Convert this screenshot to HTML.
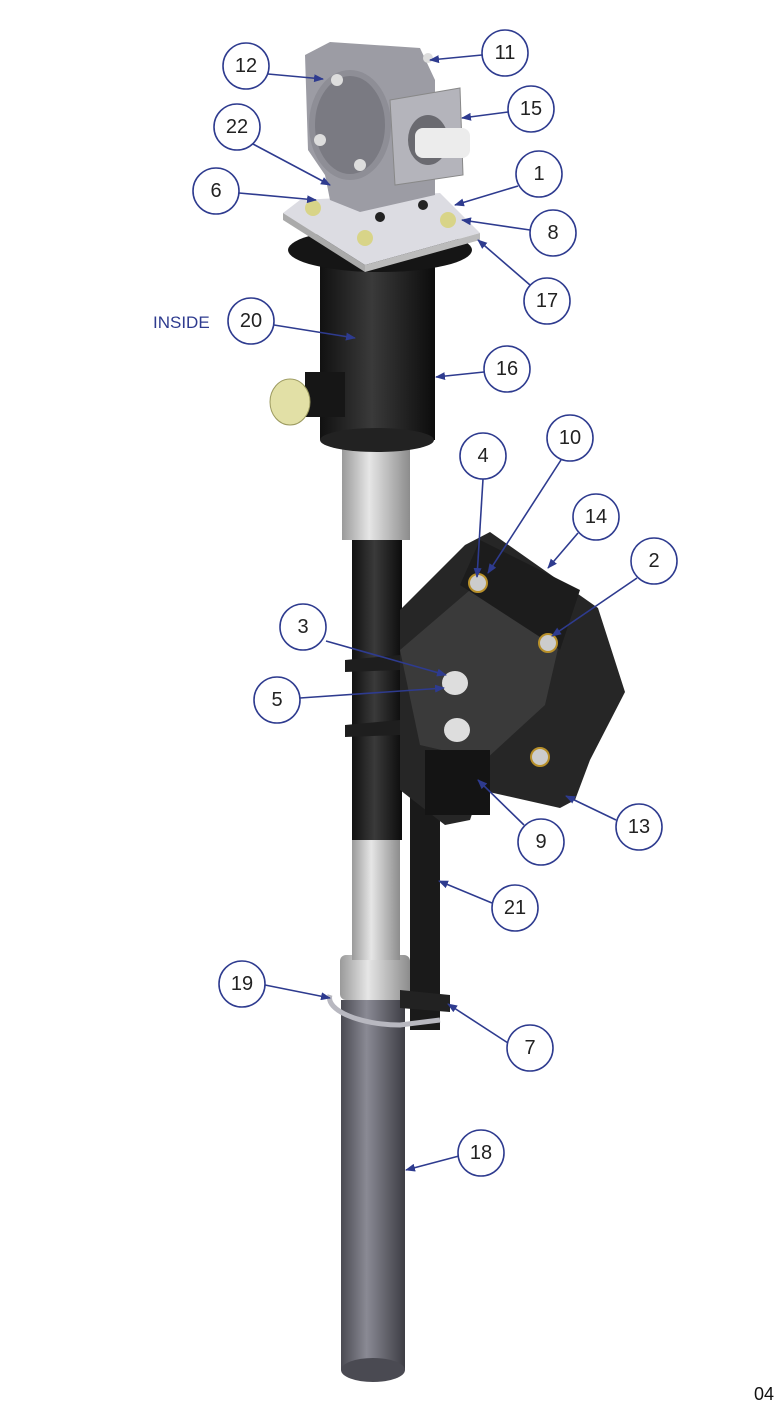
<!DOCTYPE html>
<html><head><meta charset="utf-8"><style>
html,body{margin:0;padding:0;background:#fff;width:784px;height:1416px;overflow:hidden}
svg{display:block}
text{font-family:"Liberation Sans",sans-serif}
</style></head><body>
<svg width="784" height="1416" viewBox="0 0 784 1416" xmlns="http://www.w3.org/2000/svg">
<defs>
<linearGradient id="tube" x1="0" x2="1"><stop offset="0" stop-color="#4a4a52"/><stop offset=".4" stop-color="#8a8a94"/><stop offset="1" stop-color="#3d3d44"/></linearGradient>
<linearGradient id="silver" x1="0" x2="1"><stop offset="0" stop-color="#9a9a9a"/><stop offset=".4" stop-color="#e6e6e6"/><stop offset="1" stop-color="#8c8c8c"/></linearGradient>
<linearGradient id="black" x1="0" x2="1"><stop offset="0" stop-color="#111"/><stop offset=".45" stop-color="#3a3a3a"/><stop offset="1" stop-color="#0c0c0c"/></linearGradient>
<marker id="ah" markerWidth="10" markerHeight="8" refX="9" refY="4" orient="auto" markerUnits="userSpaceOnUse"><path d="M0,0 L10,4 L0,8 z" fill="#2e3b8f"/></marker>
</defs>

<!-- long lower tube -->
<rect x="341" y="1000" width="64" height="370" fill="url(#tube)"/>
<ellipse cx="373" cy="1370" rx="32" ry="12" fill="#4a4a52"/>
<rect x="340" y="955" width="70" height="45" rx="6" fill="url(#silver)"/>
<rect x="352" y="840" width="48" height="120" fill="url(#silver)"/>
<rect x="352" y="540" width="50" height="300" fill="url(#black)"/>
<rect x="342" y="440" width="68" height="100" fill="url(#silver)"/>
<!-- vertical bar 21 -->
<polygon points="410,760 440,760 440,1030 410,1030" fill="#1a1a1a"/>
<polygon points="400,990 450,995 450,1012 400,1008" fill="#222"/>
<path d="M330,995 C325,1010 360,1025 400,1025 L440,1020" stroke="#b8b8c0" stroke-width="5" fill="none"/>
<!-- bracket -->
<polygon points="345,660 400,655 400,670 345,672" fill="#1e1e1e"/>
<polygon points="345,725 400,720 400,735 345,737" fill="#1e1e1e"/>
<polygon points="400,610 465,545 490,532 598,608 625,692 590,760 575,800 560,808 480,790 470,820 445,825 400,790" fill="#262626"/>
<polygon points="400,650 470,590 560,640 545,705 485,760 420,745" fill="#3a3a3a"/>
<polygon points="460,585 480,540 580,590 560,650" fill="#1c1c1c"/>
<rect x="425" y="750" width="65" height="65" fill="#141414"/>
<ellipse cx="455" cy="683" rx="13" ry="12" fill="#ddd"/><ellipse cx="457" cy="730" rx="13" ry="12" fill="#ddd"/>
<circle cx="478" cy="583" r="9" fill="#ccc" stroke="#b8902a" stroke-width="2"/><circle cx="548" cy="643" r="9" fill="#ccc" stroke="#b8902a" stroke-width="2"/><circle cx="540" cy="757" r="9" fill="#ccc" stroke="#b8902a" stroke-width="2"/>
<!-- black housing -->
<rect x="320" y="255" width="115" height="185" fill="url(#black)"/>
<ellipse cx="377" cy="440" rx="57" ry="12" fill="#222"/>
<ellipse cx="380" cy="250" rx="92" ry="22" fill="#151515"/>
<rect x="305" y="372" width="40" height="45" fill="#161616"/>
<ellipse cx="290" cy="402" rx="20" ry="23" fill="#e2e0a6" stroke="#9c9a60"/>
<!-- plate -->
<polygon points="283,213 300,200 440,193 480,233 365,265" fill="#dcdce2"/>
<polygon points="283,213 365,265 365,272 283,220" fill="#aaa"/>
<polygon points="365,265 480,233 480,240 365,272" fill="#bbb"/>
<circle cx="313" cy="208" r="8" fill="#d8d488"/><circle cx="365" cy="238" r="8" fill="#d8d488"/>
<circle cx="448" cy="220" r="8" fill="#d8d488"/><circle cx="423" cy="205" r="5" fill="#222"/><circle cx="338" cy="193" r="5" fill="#222"/><circle cx="380" cy="217" r="5" fill="#222"/>
<!-- gearbox -->
<polygon points="305,55 330,42 420,48 435,80 435,195 360,212 330,200 325,175 308,150" fill="#9c9ca4"/>
<ellipse cx="350" cy="125" rx="38" ry="52" fill="#7a7a82" stroke="#8e8e96" stroke-width="6"/>
<polygon points="390,100 460,88 463,175 395,185" fill="#b4b4bb" stroke="#888"/>
<ellipse cx="428" cy="140" rx="20" ry="25" fill="#6a6a70"/>
<rect x="415" y="128" width="55" height="30" rx="8" fill="#ececec"/>
<circle cx="337" cy="80" r="6" fill="#ddd"/><circle cx="320" cy="140" r="6" fill="#ddd"/><circle cx="360" cy="165" r="6" fill="#ddd"/><circle cx="428" cy="58" r="5" fill="#ddd"/>

<!-- arrows -->
<g stroke="#2e3b8f" stroke-width="1.6" fill="none" marker-end="url(#ah)">
<line x1="268" y1="74" x2="323" y2="79"/>
<line x1="482" y1="55" x2="430" y2="60"/>
<line x1="508" y1="112" x2="462" y2="118"/>
<line x1="253" y1="144" x2="330" y2="185"/>
<line x1="518" y1="186" x2="455" y2="205"/>
<line x1="239" y1="193" x2="316" y2="200"/>
<line x1="530" y1="230" x2="462" y2="220"/>
<line x1="530" y1="285" x2="478" y2="240"/>
<line x1="274" y1="325" x2="355" y2="338"/>
<line x1="484" y1="372" x2="436" y2="377"/>
<line x1="561" y1="460" x2="488" y2="573"/>
<line x1="483" y1="479" x2="477" y2="577"/>
<line x1="578" y1="533" x2="548" y2="568"/>
<line x1="637" y1="578" x2="552" y2="636"/>
<line x1="326" y1="641" x2="446" y2="675"/>
<line x1="300" y1="698" x2="444" y2="688"/>
<line x1="524" y1="825" x2="478" y2="780"/>
<line x1="616" y1="820" x2="566" y2="796"/>
<line x1="492" y1="903" x2="439" y2="881"/>
<line x1="265" y1="985" x2="330" y2="998"/>
<line x1="508" y1="1043" x2="448" y2="1004"/>
<line x1="459" y1="1156" x2="406" y2="1170"/>
</g>

<g fill="#fff" stroke="#2e3b8f" stroke-width="1.6">
<circle cx="246" cy="66" r="23"/><circle cx="505" cy="53" r="23"/><circle cx="531" cy="109" r="23"/>
<circle cx="237" cy="127" r="23"/><circle cx="539" cy="174" r="23"/><circle cx="216" cy="191" r="23"/>
<circle cx="553" cy="233" r="23"/><circle cx="547" cy="301" r="23"/><circle cx="251" cy="321" r="23"/>
<circle cx="507" cy="369" r="23"/><circle cx="570" cy="438" r="23"/><circle cx="483" cy="456" r="23"/>
<circle cx="596" cy="517" r="23"/><circle cx="654" cy="561" r="23"/><circle cx="303" cy="627" r="23"/>
<circle cx="277" cy="700" r="23"/><circle cx="541" cy="842" r="23"/><circle cx="639" cy="827" r="23"/>
<circle cx="515" cy="908" r="23"/><circle cx="242" cy="984" r="23"/><circle cx="530" cy="1048" r="23"/>
<circle cx="481" cy="1153" r="23"/>
</g>
<g fill="#222" font-size="20" text-anchor="middle" dominant-baseline="central">
<text x="246" y="66">12</text><text x="505" y="53">11</text><text x="531" y="109">15</text>
<text x="237" y="127">22</text><text x="539" y="174">1</text><text x="216" y="191">6</text>
<text x="553" y="233">8</text><text x="547" y="301">17</text><text x="251" y="321">20</text>
<text x="507" y="369">16</text><text x="570" y="438">10</text><text x="483" y="456">4</text>
<text x="596" y="517">14</text><text x="654" y="561">2</text><text x="303" y="627">3</text>
<text x="277" y="700">5</text><text x="541" y="842">9</text><text x="639" y="827">13</text>
<text x="515" y="908">21</text><text x="242" y="984">19</text><text x="530" y="1048">7</text>
<text x="481" y="1153">18</text>
</g>
<text x="153" y="328" font-size="17" fill="#2e3b8f">INSIDE</text>
<text x="754" y="1400" font-size="18" fill="#111">04</text>
</svg>
</body></html>
